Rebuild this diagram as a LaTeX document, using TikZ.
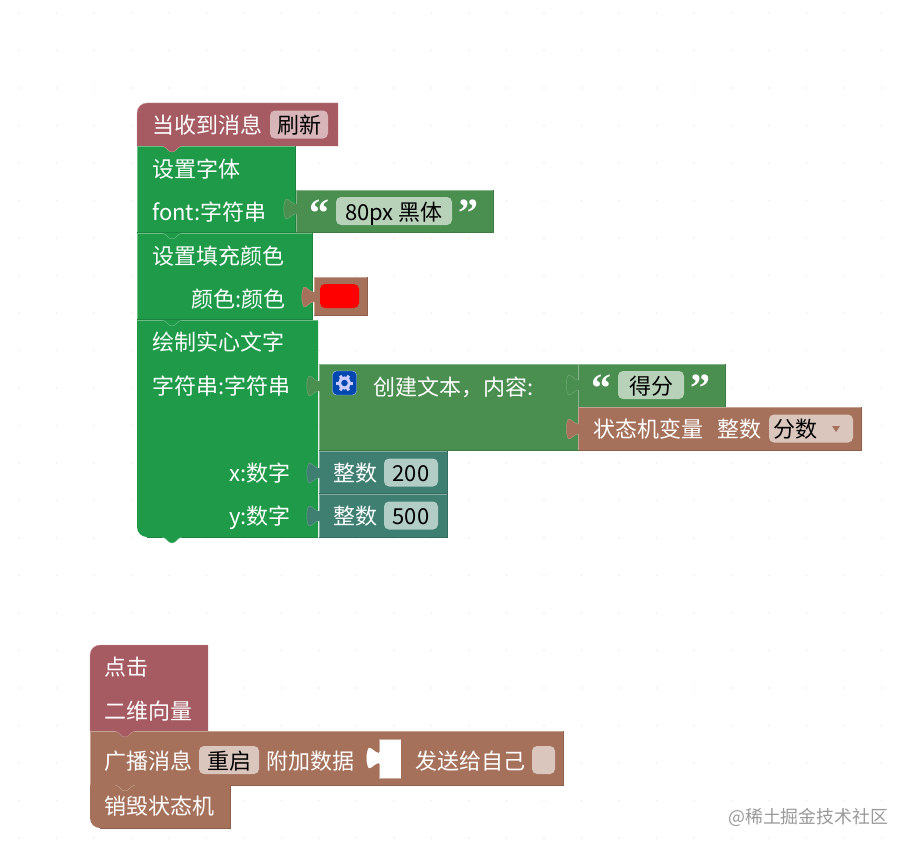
\documentclass[tikz,border=0pt]{standalone}
\usepackage{fontspec}
\setmainfont{Noto Sans CJK SC}
\newfontfamily\quotefont{Liberation Serif}
\definecolor{hatred}{HTML}{A55B61}
\definecolor{stackgreen}{HTML}{1F9A49}
\definecolor{textgreen}{HTML}{4A8E50}
\definecolor{varbrown}{HTML}{A5715B}
\definecolor{numteal}{HTML}{3F7F71}
\definecolor{griddot}{HTML}{F1F1F1}
\tikzset{
  blocktext/.style={text=white,font=\fontsize{22}{24}\selectfont,inner sep=0pt,text height=19.4,text depth=2.6},
  fieldbox/.style={rounded corners=5,inner sep=0pt,minimum height=28,text=black,text height=20,text depth=2,
    font=\fontsize{22}{24}\selectfont},
  quotemark/.style={text=white,font=\quotefont\bfseries\fontsize{40}{40}\selectfont,inner sep=0pt}
}
\newcommand{\blockrect}[5]{
  \fill[#5] (#1,#2) rectangle (#3,#4);
  \draw[#5!65!white] (#1,#4) -- (#1,#2) -- (#3,#2);
  \draw[#5!85!black] (#3,#2) -- (#3,#4) -- (#1,#4);
}
\newcommand{\notchtab}[3]{
  \draw[fill=#3,draw=#3!65!white] (#1,#2) .. controls ({#1+5},{#2+1}) and ({#1+6},{#2+6}) .. ({#1+10},{#2+6})
    .. controls ({#1+14},{#2+6}) and ({#1+15},{#2+1}) .. ({#1+20},#2);
}
\newcommand{\puzzletab}[3]{
  \draw[fill=#3,draw=#3!75!white] ({#1+1},{#2-5}) -- ({#1-1},{#2-5}) .. controls ({#1-5},{#2-6}) and ({#1-7},{#2-10}) .. ({#1-10},{#2-10})
    .. controls ({#1-13},{#2-6}) and ({#1-13},{#2+6}) .. ({#1-10},{#2+10})
    .. controls ({#1-7},{#2+10}) and ({#1-5},{#2+6}) .. ({#1-1},{#2+5}) -- ({#1+1},{#2+5});
}
\begin{document}
\begin{tikzpicture}[x=1pt,y=-1pt]
  \useasboundingbox (0,0) rectangle (911,851);
  % dotted workspace
  \foreach \i in {0,...,23}
    \foreach \j in {0,...,22}
      \fill[griddot] ({19+37.5*\i},{13+37.5*\j}) circle (1.2);

  % first stack
  \fill[hatred] (137,146) [rounded corners=10] -- (137,103) [sharp corners] -- (338,103) -- (338,146) -- cycle;
  \draw[hatred!65!white] (137,146) [rounded corners=10] -- (137,103) [sharp corners] -- (338,103);
  \blockrect{137}{146}{295}{232}{stackgreen}
  \blockrect{296}{190}{493.5}{232}{textgreen}
  \blockrect{137}{233}{312}{319}{stackgreen}
  \blockrect{314}{277}{367.5}{315}{varbrown}
  \fill[stackgreen] (137,320) [rounded corners=10] -- (137,537) [sharp corners] -- (318,537) -- (318,320) -- cycle;
  \draw[stackgreen!65!white] (137,320) -- (318,320);
  \draw[stackgreen!85!black] (318,537) -- (147,537);
  \blockrect{319}{364}{578}{450}{textgreen}
  \blockrect{578.5}{364}{725}{407}{textgreen}
  \blockrect{578.5}{407}{861.5}{450}{varbrown}
  \blockrect{319}{451}{447}{493}{numteal}
  \blockrect{319}{494}{447}{537}{numteal}

  \notchtab{162}{146}{hatred}
  \notchtab{162}{233}{stackgreen}
  \notchtab{162}{320}{stackgreen}
  \notchtab{162}{537}{stackgreen}
  \puzzletab{296}{209}{textgreen}
  \puzzletab{314}{297}{varbrown}
  \puzzletab{319}{386}{textgreen}
  \puzzletab{578.5}{385}{textgreen}
  \puzzletab{578.5}{429}{varbrown}
  \puzzletab{319}{473}{numteal}
  \puzzletab{319}{516}{numteal}

  \node[blocktext,anchor=west] (whenmsg) at (152,125) {当收到消息};
  \node[fieldbox,fill=hatred!45!white,minimum width=58] (refresh) at (299,124.5) {刷新};
  \node[blocktext,anchor=west] (setfont) at (152,169) {设置字体};
  \node[blocktext,anchor=west] (fontarg) at (152,212) {font:字符串};
  \node[quotemark] (fontopen) at (319,213) {“};
  \node[fieldbox,fill=textgreen!40!white,minimum width=116] (fontval) at (394,211) {80px 黑体};
  \node[quotemark] (fontclose) at (468,213) {”};
  \node[blocktext,anchor=west] (setfill) at (152,256) {设置填充颜色};
  \node[blocktext,anchor=east] (fillarg) at (285.5,299) {颜色:颜色};
  \node[fill=red,rounded corners=5,minimum width=39,minimum height=24,inner sep=0pt] (swatch) at (339.5,296) {};
  \node[blocktext,anchor=west] (drawtext) at (152,342) {绘制实心文字};
  \node[blocktext,anchor=east] (textarg) at (290.5,386) {字符串:字符串};
  \node[blocktext,anchor=east] (xarg) at (291,473) {x:数字};
  \node[blocktext,anchor=east] (yarg) at (291,516) {y:数字};

  % mutator icon
  \node[fill=blue!60!cyan!70!black,draw=white!75!blue,rounded corners=4,minimum size=24,inner sep=0pt] (gear) at (344.5,383) {};
  \foreach \a in {0,60,...,300}
    \draw[white!80!blue,line width=3] (gear.center) ++(\a:4) -- ++(\a:4.5);
  \draw[white!80!blue,line width=3] (gear.center) circle (5);

  \node[blocktext,anchor=west] (maketext) at (373,387) {创建文本，内容:};
  \node[quotemark] (scoreopen) at (601,388) {“};
  \node[fieldbox,fill=textgreen!40!white,minimum width=66] (scoreval) at (651,385) {得分};
  \node[quotemark] (scoreclose) at (700,388) {”};
  \node[blocktext,anchor=west] (fsmvar) at (593,429) {状态机变量};
  \node[blocktext,anchor=west] (inttype) at (717,429) {整数};
  \node[fieldbox,fill=varbrown!40!white,minimum width=84,text width=76,align=left] (scorevar) at (811,428.5) {分数};
  \fill[varbrown] (832,426) -- (840,426) -- (836,432) -- cycle;
  \node[blocktext,anchor=west] (xint) at (333,473) {整数};
  \node[fieldbox,fill=numteal!40!white,minimum width=54] (xval) at (411,472.5) {200};
  \node[blocktext,anchor=west] (yint) at (333,516) {整数};
  \node[fieldbox,fill=numteal!40!white,minimum width=54] (yval) at (411,515.5) {500};

  % second stack
  \fill[hatred] (90,731) [rounded corners=10] -- (90,645) [sharp corners] -- (208,645) -- (208,731) -- cycle;
  \draw[hatred!65!white] (90,731) [rounded corners=10] -- (90,645) [sharp corners] -- (208,645);
  \blockrect{90}{731}{563}{785}{varbrown}
  \fill[varbrown] (90,785) [rounded corners=10] -- (90,828) [sharp corners] -- (230,828) -- (230,785) -- cycle;
  \draw[varbrown!85!black] (100,828) -- (230,828) -- (230,785);
  \notchtab{115}{731}{hatred}
  \notchtab{115}{785}{varbrown}

  \node[blocktext,anchor=west] (click) at (104,667) {点击};
  \node[blocktext,anchor=west] (vector) at (104,711) {二维向量};
  \node[blocktext,anchor=west] (broadcast) at (104,761) {广播消息};
  \node[fieldbox,fill=varbrown!40!white,minimum width=60] (restart) at (229,760) {重启};
  \node[blocktext,anchor=west] (attach) at (266,761) {附加数据};

  % empty value slot
  \fill[white] (379,739) rectangle (401,778);
  \puzzletab{379}{758}{white}
  \draw[varbrown!60!white] (379,752) -- (379,739) -- (401,739);
  \draw[varbrown!60!white] (379,764) -- (379,778) -- (401,778);

  \node[blocktext,anchor=west] (sendself) at (415,761) {发送给自己};
  \node[fieldbox,fill=varbrown!40!white,minimum width=23] (selfflag) at (543.5,760) {};
  \node[blocktext,anchor=west] (destroy) at (104,806) {销毁状态机};

  \node[anchor=west,inner sep=0pt,text=black!40,font=\fontsize{17.9}{20}\selectfont] (watermark) at (728,817) {@稀土掘金技术社区};
\end{tikzpicture}
\end{document}
